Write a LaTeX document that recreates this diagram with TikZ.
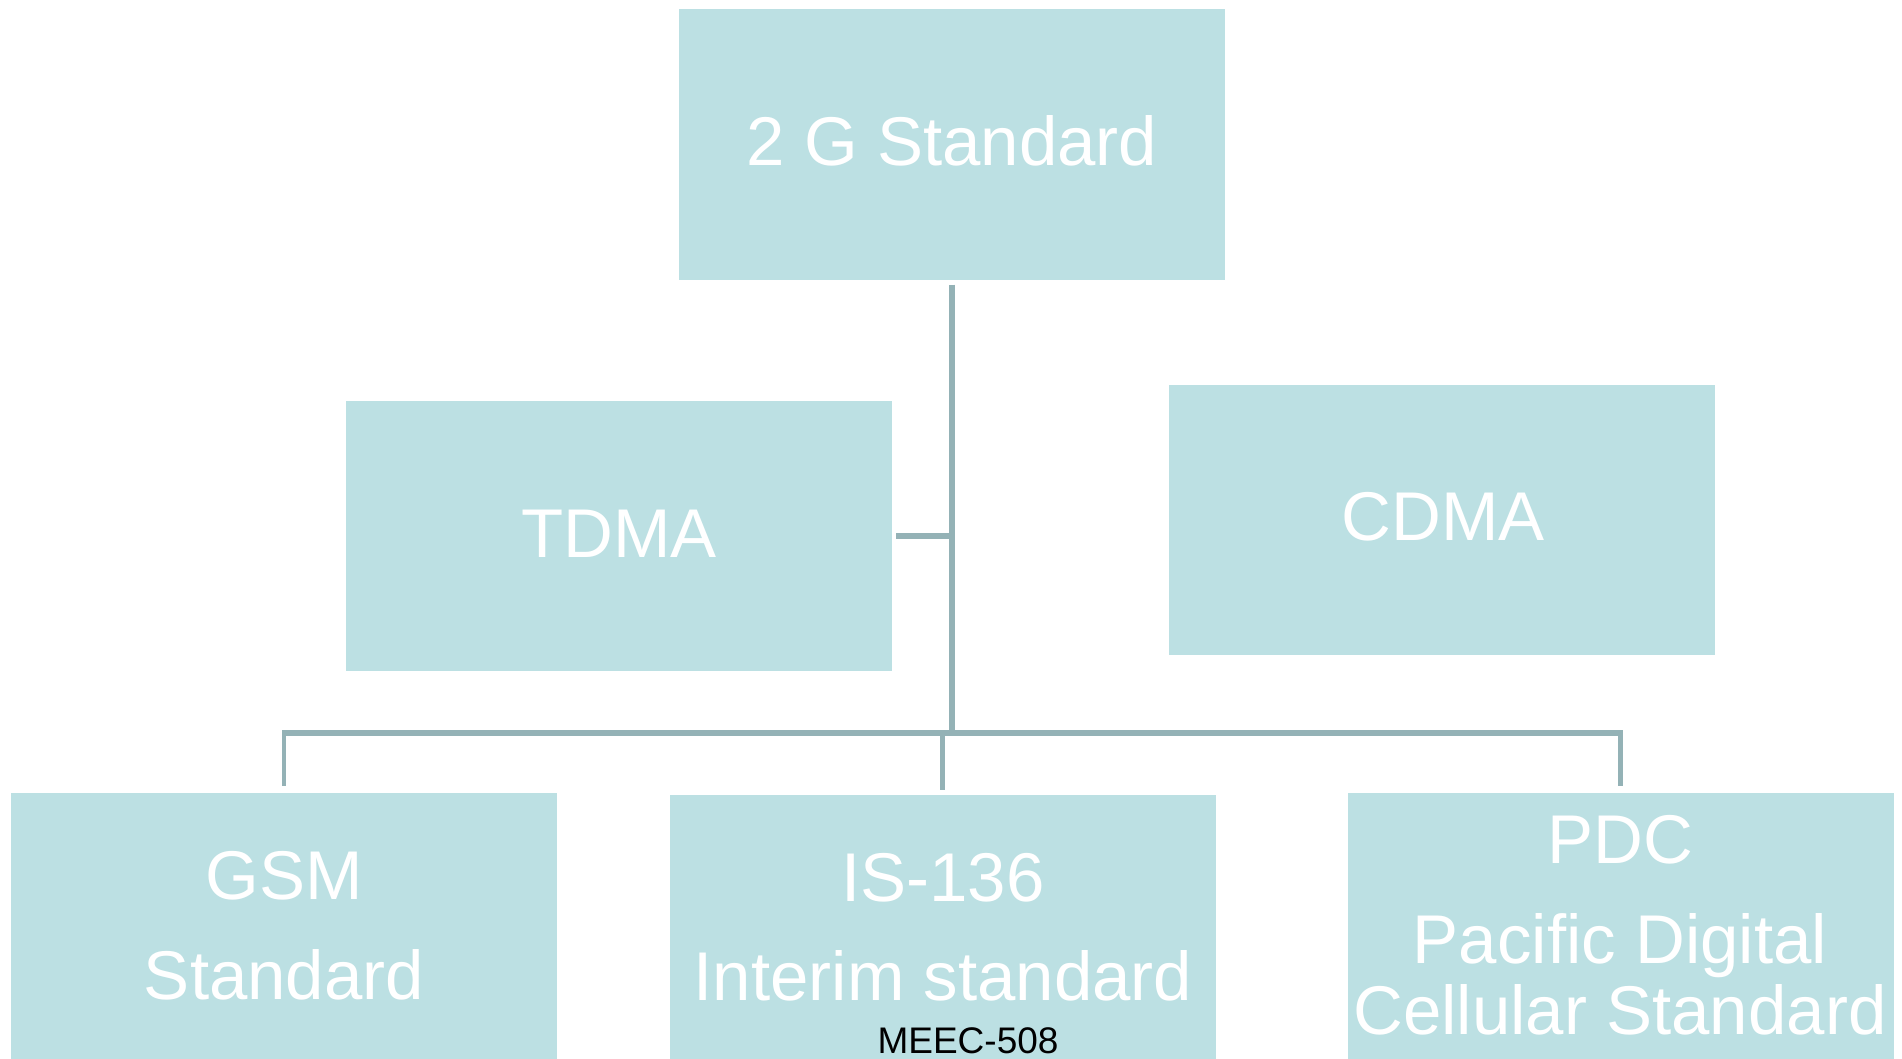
\documentclass[tikz,border=0pt]{standalone}
\usepackage{fontspec}
\setmainfont{Liberation Sans}
\definecolor{boxfill}{HTML}{BCE0E3}
\definecolor{linkcol}{HTML}{94B2B6}
\begin{document}
\begin{tikzpicture}[x=1pt,y=-1pt,
  box/.style={fill=boxfill, draw=none, minimum width=546pt, minimum height=270pt, inner sep=0pt},
  lbl/.style={text=white, font=\fontsize{69}{80}\selectfont, anchor=base, inner sep=0pt},
  foot/.style={text=black, font=\fontsize{37}{44}\selectfont, anchor=base, inner sep=0pt},
  conn/.style={draw=linkcol, line width=6pt},
  drop/.style={draw=linkcol, line width=4.5pt}]
\clip (0,0) rectangle (1902,1059);
\fill[white] (0,0) rectangle (1902,1059);

% boxes
\node[box] (std)  at (952,144.5)  {};
\node[box] (tdma) at (619,536)    {};
\node[box] (cdma) at (1442,519.5) {};
\node[box] (gsm)  at (284,928)    {};
\node[box] (is)   at (942.5,930)  {};
\node[box] (pdc)  at (1620.5,928) {};

% box texts
\node[lbl] (stdT)  at (952,166)   {2 G Standard};
\node[lbl] (tdmaT) at (619,557)   {TDMA};
\node[lbl] (cdmaT) at (1443,540)  {CDMA};
\node[lbl] (gsmA)  at (284,899)   {GSM};
\node[lbl] (gsmB)  at (284,999)   {Standard};
\node[lbl] (isA)   at (943,901)   {IS-136};
\node[lbl] (isB)   at (943,1000)  {Interim standard};
\node[lbl] (pdcA)  at (1620,863)  {PDC};
\node[lbl] (pdcB)  at (1620,963)  {Pacific Digital};
\node[lbl] (pdcC)  at (1620,1034) {Cellular Standard};
\node[foot] (code) at (968,1053)  {MEEC-508};

% connectors
\coordinate (hub) at (952,733);
\draw[conn] ([yshift=-5pt]std.south) -- ([yshift=-3pt]hub);
\draw[conn] ([xshift=4pt]tdma.east) -- (tdma.east -| hub);
\draw[conn] ([xshift=-2pt]gsm.north |- hub) -- ([xshift=2pt]pdc.north |- hub);
\draw[drop] ([yshift=7pt]gsm.north) -- ([yshift=2pt]gsm.north |- hub);
\draw[drop] ([yshift=5pt]is.north) -- (is.north |- hub);
\draw[drop] ([yshift=7pt]pdc.north) -- ([yshift=2pt]pdc.north |- hub);
\end{tikzpicture}
\end{document}
